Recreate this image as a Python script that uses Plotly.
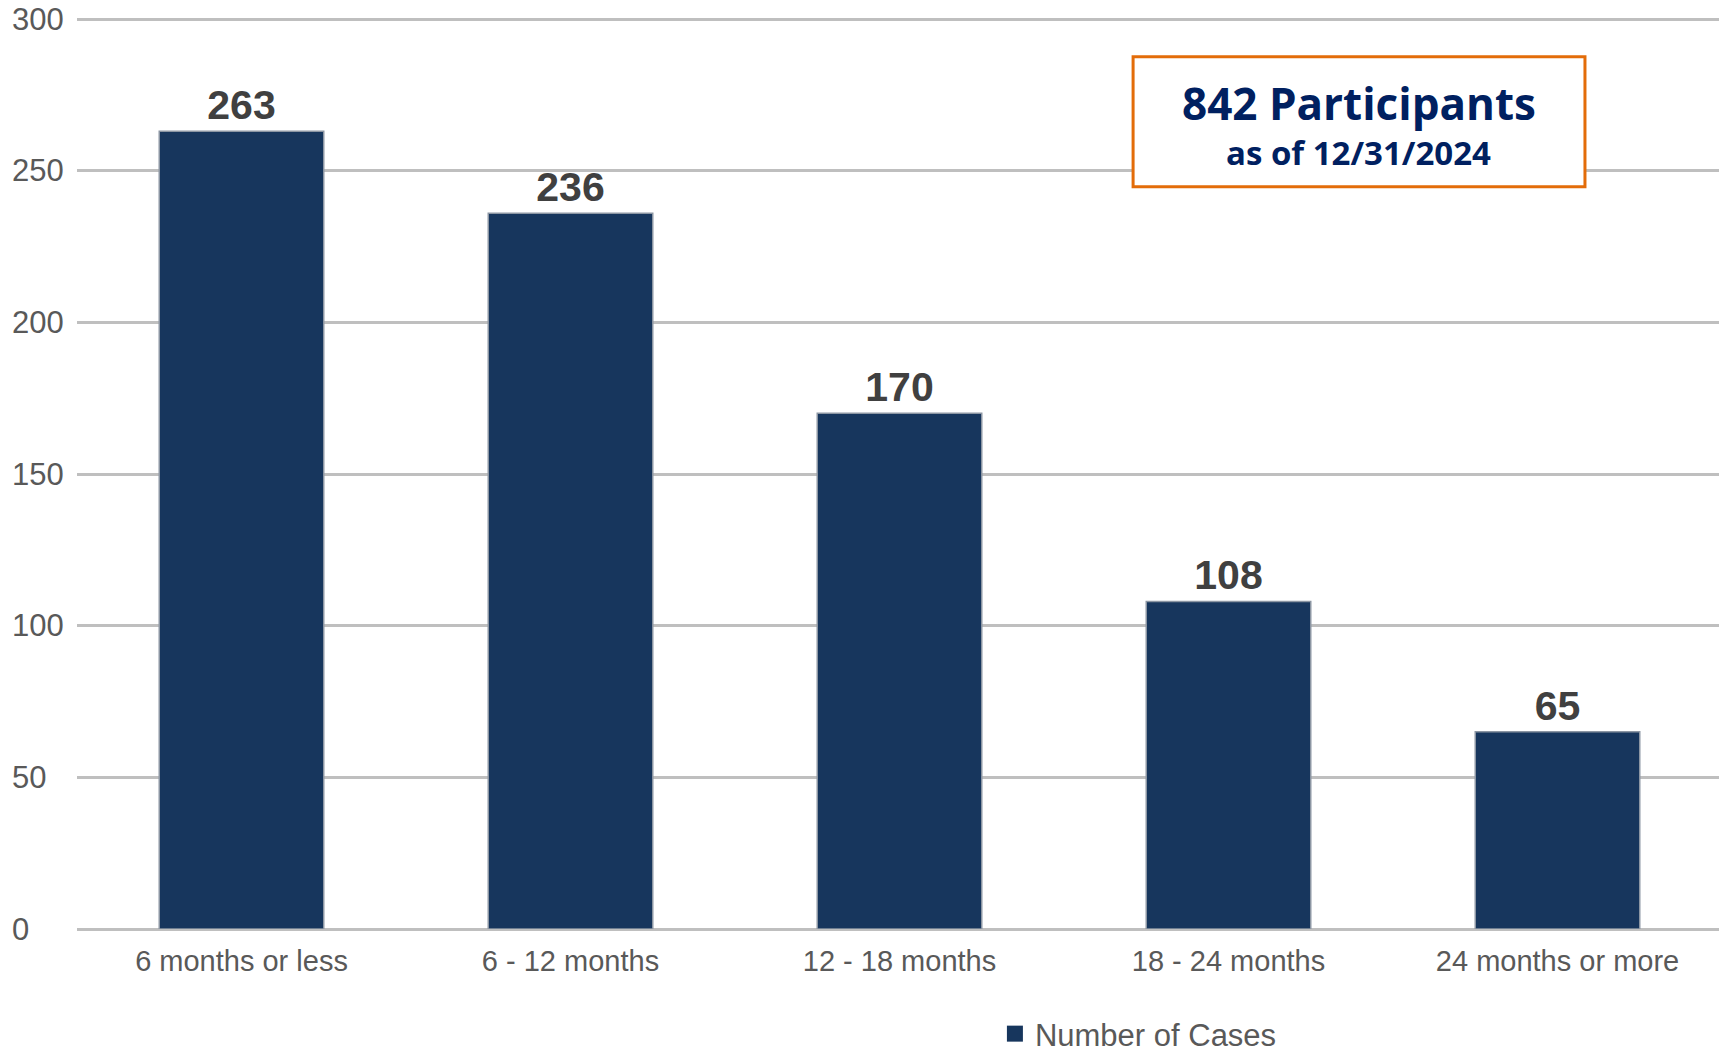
import plotly.graph_objects as go

categories = ["6 months or less", "6 - 12 months", "12 - 18 months", "18 - 24 months", "24 months or more"]
cases = [263, 236, 170, 108, 65]
y_ticks = [0, 50, 100, 150, 200, 250, 300]
series_name = "Number of Cases"
box_title = "842 Participants"
box_subtitle = "as of 12/31/2024"

BAR = "#17365D"
GRID = "#BFBFBF"
TICK = "#595959"
FONT = "Liberation Sans, Arial, sans-serif"
BOXFONT = "Open Sans, Lato, sans-serif"

fig = go.Figure()
fig.add_trace(go.Bar(
    x=categories, y=cases, name=series_name,
    marker=dict(color=BAR, line=dict(color="#8C96A3", width=1.5)),
    text=[str(v) for v in cases], textposition="outside",
    textfont=dict(family=FONT, size=41, color="#404040"),
    texttemplate="<b>%{text}</b>",
    cliponaxis=False,
    showlegend=False,
))
# legend entry with a larger square swatch
fig.add_trace(go.Scatter(
    x=[None], y=[None], mode="markers", name=series_name,
    marker=dict(symbol="square", size=17, color=BAR),
    showlegend=True,
))

# left-aligned y tick labels
for t in y_ticks:
    fig.add_annotation(x=0, xref="paper", y=t, yref="y", text=str(t),
                       xanchor="left", yanchor="middle", xshift=-67, showarrow=False,
                       font=dict(family=FONT, size=31, color=TICK))

# info box
fig.add_shape(type="rect", xref="paper", yref="paper",
              x0=0.642, x1=0.9167, y0=0.813, y1=0.9554,
              line=dict(color="#E36C09", width=3), fillcolor="white", layer="above")
fig.add_annotation(x=0.7793, xref="paper", y=0.905, yref="paper", text=f"<b>{box_title}</b>",
                   showarrow=False, xanchor="center", yanchor="middle",
                   font=dict(family=BOXFONT, size=44, color="#002060"))
fig.add_annotation(x=0.7793, xref="paper", y=0.850, yref="paper", text=f"<b>{box_subtitle}</b>",
                   showarrow=False, xanchor="center", yanchor="middle",
                   font=dict(family=BOXFONT, size=33, color="#002060"))

fig.update_layout(
    width=1719, height=1040,
    margin=dict(l=69, r=5, t=8, b=119, autoexpand=False),
    paper_bgcolor="white", plot_bgcolor="white",
    bargap=0.5,
    font=dict(family=FONT, color=TICK),
    xaxis=dict(tickfont=dict(size=29, color=TICK), ticks="", showline=False,
               showgrid=False, ticklabelstandoff=12),
    yaxis=dict(range=[0, 301], tickvals=y_ticks, showticklabels=False,
               showgrid=True, gridcolor=GRID, gridwidth=3,
               zeroline=True, zerolinecolor=GRID, zerolinewidth=3),
    legend=dict(orientation="h", x=0.558, xanchor="left", y=-0.115, yanchor="middle",
                font=dict(size=31, color=TICK), itemsizing="trace"),
)

fig.write_html("out.html")
